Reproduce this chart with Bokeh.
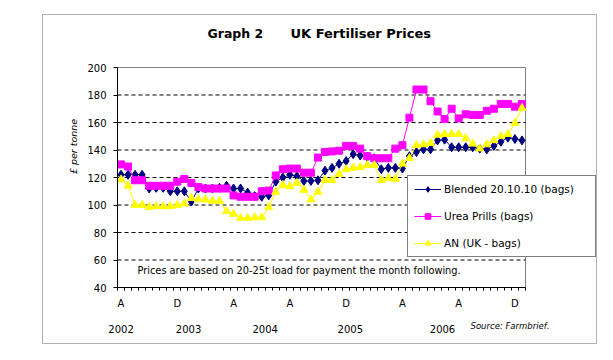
import pandas as pd
from bokeh.plotting import figure
from bokeh.models import (FixedTicker, Label, Legend, LegendItem, BoxAnnotation, Range1d)
from bokeh.embed import file_html
from bokeh.resources import INLINE

# ---------------- data ----------------
months = list(pd.date_range("2002-04-01", periods=58, freq="MS").strftime("%b %Y"))

blended = [122, 122, 122, 122, 112, 112.5, 112.5, 110, 110, 110,
           102.5, 112, 112, 112, 112.5, 114, 112, 112, 109, 106.5,
           106, 107, 117, 120, 122, 121, 117.5, 117.5, 118, 125,
           127, 130, 132, 137, 136, 135, 134, 126, 127, 127,
           126.5, 135.5, 138.5, 140.5, 140.5, 147, 147.5, 142, 142, 142,
           142, 141, 140.5, 143, 146, 149, 148, 147]

urea = [129.5, 128, 118, 118, 114, 114, 114, 114, 117, 119,
        116, 113, 112, 112, 112, 112, 107, 106, 106, 106,
        110, 110.5, 121.5, 126, 126.5, 126.5, 123.5, 123.5, 134.5, 138.5,
        139, 139.5, 143, 143, 141, 135.5, 134, 134, 134, 141,
        143.5, 163.5, 184, 184, 175.5, 168, 162.5, 170, 163, 166,
        165.5, 165.5, 168.5, 170, 173.5, 173.5, 171.5, 173.5]

an = [118.5, 114, 100, 100, 98.5, 99, 99, 99, 100, 101,
      105, 104, 104, 103, 103, 95.5, 93.5, 90.5, 90.5, 91,
      91, 98.5, 109.5, 114.5, 113.5, 116, 111, 104, 109.5, 118,
      118, 122.5, 126, 127, 127.5, 129, 129, 118, 119.5, 119,
      130, 134, 143.5, 144, 145, 151, 151.5, 151.5, 151.5, 148.5,
      144.5, 141, 144, 147, 150, 151.5, 159.5, 170.5]

series_names = ["Blended 20.10.10 (bags)", "Urea Prills (bags)", "AN (UK - bags)"]
y_ticks = [40, 60, 80, 100, 120, 140, 160, 180, 200]
label_every = 8
year_labels = ["2002", "2003", "2004", "2005", "2006"]
year_label_pos = [0, 9.6, 20.5, 32.6, 45.7]

# ---------------- geometry (picture px <-> data) ----------------
W, H = 597, 344
FR_L, FR_R, FR_T, FR_B = 117, 525, 67, 287
N = len(months)
SX = (FR_R - FR_L) / N
SY = (FR_B - FR_T) / (y_ticks[-1] - y_ticks[0])
def dx(px):
    return -0.5 + (px - FR_L) / SX
def dy(py):
    return y_ticks[0] + (FR_B - py) / SY

FONT = "DejaVu Sans"

p = figure(width=W, height=H,
           x_range=Range1d(dx(0), dx(W)), y_range=Range1d(dy(H), dy(0)),
           output_backend="svg", toolbar_location=None, title=None,
           min_border_left=0, min_border_right=0, min_border_top=0, min_border_bottom=0)
p.background_fill_color = "white"
p.border_fill_color = "white"
p.outline_line_color = None
p.xgrid.grid_line_color = None
p.ygrid.grid_line_color = None

x = list(range(N))

# outer chart border
p.add_layout(BoxAnnotation(left=dx(42), right=dx(596), top=dy(14), bottom=dy(343),
                           fill_alpha=0, line_color="black", line_width=1, level="underlay"))

# plot area: gray border + dashed gridlines
p.quad(left=-0.5, right=N - 0.5, bottom=y_ticks[0], top=y_ticks[-1],
       fill_color="white", line_color="#808080", line_width=1)
grid_vals = y_ticks[1:-1]
p.segment(x0=[-0.5] * len(grid_vals), x1=[N - 0.5] * len(grid_vals), y0=grid_vals, y1=grid_vals,
          line_color="black", line_width=1, line_dash="4 3")

# x axis (at the bottom of the plot area)
major = list(range(0, N, label_every))
xa = p.xaxis[0]
xa.fixed_location = y_ticks[0]
xa.bounds = (-0.5, N - 0.5)
xa.ticker = FixedTicker(ticks=major, minor_ticks=[i - 0.5 for i in range(N + 1)])
xa.major_label_overrides = {i: months[i][0] for i in major}
xa.major_tick_line_color = None
xa.major_tick_out = 4
xa.major_tick_in = 0
xa.minor_tick_out = 3
xa.minor_tick_in = 0
xa.minor_tick_line_color = "black"
xa.axis_line_color = "black"
xa.major_label_standoff = 6
xa.major_label_text_font = FONT
xa.major_label_text_font_size = "10px"
xa.major_label_text_color = "black"

# y axis
ya = p.yaxis[0]
ya.fixed_location = -0.5
ya.bounds = (y_ticks[0], y_ticks[-1])
ya.ticker = FixedTicker(ticks=y_ticks, minor_ticks=[])
ya.major_tick_out = 4
ya.major_tick_in = 0
ya.major_tick_line_color = "black"
ya.axis_line_color = "black"
ya.major_label_standoff = 7
ya.major_label_text_font = FONT
ya.major_label_text_font_size = "10px"
ya.major_label_text_color = "black"

# series
l1 = p.line(x, blended, line_color="#000080", line_width=1)
s1 = p.scatter(x, blended, marker="diamond", size=9, fill_color="#000080", line_color="#000080")
l2 = p.line(x, urea, line_color="#FF00FF", line_width=1)
s2 = p.scatter(x, urea, marker="square", size=7, fill_color="#FF00FF", line_color="#FF00FF")
l3 = p.line(x, an, line_color="#FFFF00", line_width=1)
s3 = p.scatter(x, an, marker="triangle", size=8, fill_color="#FFFF00", line_color="#FFFF00")

legend = Legend(items=[LegendItem(label=series_names[0], renderers=[l1, s1]),
                       LegendItem(label=series_names[1], renderers=[l2, s2]),
                       LegendItem(label=series_names[2], renderers=[l3, s3])],
                location=(407, H - 257))
legend.margin = 0
legend.padding = 6
legend.spacing = 13
legend.glyph_width = 27
legend.glyph_height = 14
legend.label_height = 14
legend.label_width = 145
legend.label_standoff = 3
legend.label_text_font = FONT
legend.label_text_font_size = "10.5px"
legend.label_text_color = "black"
legend.border_line_color = "black"
legend.border_line_width = 1
legend.background_fill_color = "white"
legend.background_fill_alpha = 1
p.add_layout(legend)

# title
p.add_layout(Label(x=dx(207), y=dy(33), text="Graph 2", text_font=FONT, text_font_style="bold",
                   text_font_size="12.5px", text_align="left", text_baseline="middle", text_color="black"))
p.add_layout(Label(x=dx(290), y=dy(33), text="UK Fertiliser Prices", text_font=FONT,
                   text_font_style="bold", text_font_size="13px", text_align="left",
                   text_baseline="middle", text_color="black"))

# y axis label
p.add_layout(Label(x=dx(73), y=dy(146), text="£ per tonne", angle=1.5708, text_font=FONT,
                   text_font_style="italic", text_font_size="9.5px", text_align="center",
                   text_baseline="middle", text_color="black"))

# note
p.add_layout(Label(x=dx(137), y=dy(270), text="Prices are based on 20-25t load for payment the month following.",
                   text_font=FONT, text_font_size="9.8px", text_align="left", text_baseline="middle",
                   text_color="black"))

# source
p.add_layout(Label(x=dx(470), y=dy(325), text="Source: Farmbrief.", text_font=FONT,
                   text_font_style="italic", text_font_size="8.5px", text_align="left",
                   text_baseline="middle", text_color="black"))

# year labels
for yr, pos in zip(year_labels, year_label_pos):
    p.add_layout(Label(x=pos, y=dy(328), text=yr, text_font=FONT, text_font_size="10px",
                       text_align="center", text_baseline="middle", text_color="black"))

open("out.html", "w").write(file_html(p, INLINE))
